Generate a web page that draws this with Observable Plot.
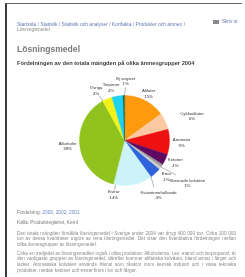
<!DOCTYPE html>
<html><head><meta charset="utf-8">
<script src="https://cdn.jsdelivr.net/npm/d3@7"></script>
<script src="https://cdn.jsdelivr.net/npm/@observablehq/plot@0.6"></script>
<style>
html,body{margin:0;padding:0;background:#fff;width:245px;height:277px;overflow:hidden;font-family:Arial,"Liberation Sans",sans-serif;}
#wrap{position:absolute;left:0;top:0;width:245px;height:277px;filter:blur(0.35px);}
#frame{position:absolute;left:5px;top:3px;width:235px;height:290px;border-left:2px solid #3a3a3a;border-top:1px solid #6a6a6a;}
.t{position:absolute;white-space:nowrap;line-height:1;}
#crumb{left:17px;top:22.5px;font-size:4.9px;color:#6577b3;}
#crumb2{left:17px;top:27.7px;font-size:4.9px;color:#8a8a8a;}
#print{left:222px;top:19.8px;font-size:4.6px;color:#6577b3;}
#icon{position:absolute;left:213px;top:20px;width:6px;height:4px;background:#8a8a8a;}
#h1{left:17px;top:44.5px;font-size:8.6px;font-weight:bold;color:#7a7a7a;}
#title{left:17px;top:61.3px;font-size:5.7px;font-weight:bold;color:#3a3a3a;}
#chart{position:absolute;left:0;top:68px;}
#prev{left:17px;top:210.5px;font-size:4.8px;color:#7a7a7a;}
#prev a{color:#6f86c6;text-decoration:none;}
#src{left:17px;top:221px;font-size:4.8px;color:#7a7a7a;}
.p{position:absolute;left:17px;width:219px;font-size:4.7px;line-height:5.8px;color:#8a8a8a;text-align:justify;white-space:normal;}
#p1{top:230.5px;}
#p2{top:250.5px;}
</style></head><body>
<div id="wrap">
<div id="frame"></div>
<div id="icon"></div>
<div class="t" id="print">Skriv ut</div>
<div class="t" id="crumb">Startsida / Statistik / Statistik och analyser / Kortfakta / Produkter och ämnen /</div>
<div class="t" id="crumb2">Lösningsmedel</div>
<div class="t" id="h1">Lösningsmedel</div>
<div class="t" id="title"></div>
<div id="chart"></div>
<div class="t" id="prev">Fördelning: <a href="#">2003</a>, <a href="#">2002</a>, <a href="#">2001</a></div>
<div class="t" id="src">Källa: Produktregistret, KemI</div>
<div class="p" id="p1">Den totala mängden försålda lösningsmedel i Sverige under 2004 var drygt 400 000 ton. Cirka 100 000 ton av dessa kvantiteter utgörs av rena lösningsmedel. Det visar den kvantitativa fördelningen mellan olika ämnesgrupper av lösningsmedel.</div>
<div class="p" id="p2">Cirka en tredjedel av lösningsmedlen ingick i olika produkter. Alkoholerna, t.ex. etanol och isopropanol, är den vanligaste gruppen av lösningsmedel, därefter kommer alifatiska kolväten, bland annat i färger och lacker. Aromatiska kolväten används främst som råvaror inom kemisk industri och i vissa tekniska produkter, medan ketoner och estrar finns i lim och färger.</div>
</div>
<script>
// ---- data ----
const chartTitle = "Fördelningen av den totala mängden på olika ämnesgrupper 2004";
const categories = ["Alifater", "Cykloalifater", "Aromater", "Ketoner", "Etrar", "Klorerade kolväten",
  "Kväveinnehållande", "Estrar", "Alkoholer", "Övriga", "Terpener", "Ej angivet"];
const shares = [15, 6, 9, 4, 1, 1, 4, 14, 38, 3.5, 4, 0.5];

// ---- styles / layout ----
const palette = ["#ff9a0e", "#fcc9a2", "#ee1111", "#5e0a62", "#9a9a9a", "#cfcfcf",
  "#2f62dd", "#ccf4f8", "#90c31e", "#f2f216", "#1fd2ef", "#0b5e35"];
const labelAngleNudge = [0, 5, 0, -2, 6, -4, 11, 22, 2, -7, -5, 2];   // degrees
const labelRadius    = [1.18, 1.6, 1.27, 1.23, 1.22, 1.68, 1.42, 1.22, 1.27, 1.28, 1.23, 1.33];
const withLeader     = [false, false, false, false, false, true, true, true, false, true, false, true];

document.getElementById("title").textContent = chartTitle;

const R = 45, W = 245, H = 150, cx = 124, cy = 72;
const rows = categories.map((name, i) => ({name, share: shares[i], i}));
const total = d3.sum(shares);
const arcs = d3.pie().sort(null).value(d => d.share)(rows);
const deg = Math.PI / 180;
const pt = (a, r) => [r * Math.sin(a), -r * Math.cos(a)];

const wedges = arcs.map(a => {
  const n = Math.max(2, Math.ceil((a.endAngle - a.startAngle) / deg));
  const ring = [[0, 0]];
  for (let k = 0; k <= n; k++) ring.push(pt(a.startAngle + (a.endAngle - a.startAngle) * k / n, 1));
  ring.push([0, 0]);
  return {type: "Feature", properties: {name: a.data.name}, geometry: {type: "Polygon", coordinates: [ring]}};
});

const labels = arcs.map(a => {
  const i = a.data.i;
  const mid = (a.startAngle + a.endAngle) / 2;
  const la = mid + labelAngleNudge[i] * deg;
  const [lx, ly] = pt(la, labelRadius[i]);
  const ea = Math.min(Math.max(la, a.startAngle), a.endAngle);
  const [x1, y1] = pt(ea, 1.0);
  const [x2, y2] = pt(la, 1 + (labelRadius[i] - 1) * 0.55);
  const pct = Math.round(a.data.share / total * 100);
  return {lx, ly, x1, y1, x2, y2, leader: withLeader[i], text: `${a.data.name}\n${pct}%`};
});

const domain = {type: "Polygon", coordinates: [[
  [-cx / R, -cy / R], [(W - cx) / R, -cy / R], [(W - cx) / R, (H - cy) / R], [-cx / R, (H - cy) / R], [-cx / R, -cy / R]
]]};

const chart = Plot.plot({
  width: W, height: H, margin: 0,
  projection: {type: "identity", domain},
  color: {domain: categories, range: palette},
  style: {background: "transparent", fontFamily: "Arial, 'Liberation Sans', sans-serif"},
  marks: [
    Plot.geo(wedges, {fill: d => d.properties.name, stroke: d => d.properties.name, strokeWidth: 0.4}),
    Plot.link(labels.filter(d => d.leader), {x1: "x1", y1: "y1", x2: "x2", y2: "y2", stroke: "#444", strokeWidth: 0.4}),
    Plot.text(labels, {x: "lx", y: "ly", text: "text", fontSize: 4.3, lineHeight: 1.35, fill: "#333"})
  ]
});
document.getElementById("chart").appendChild(chart);
</script>
</body></html>
